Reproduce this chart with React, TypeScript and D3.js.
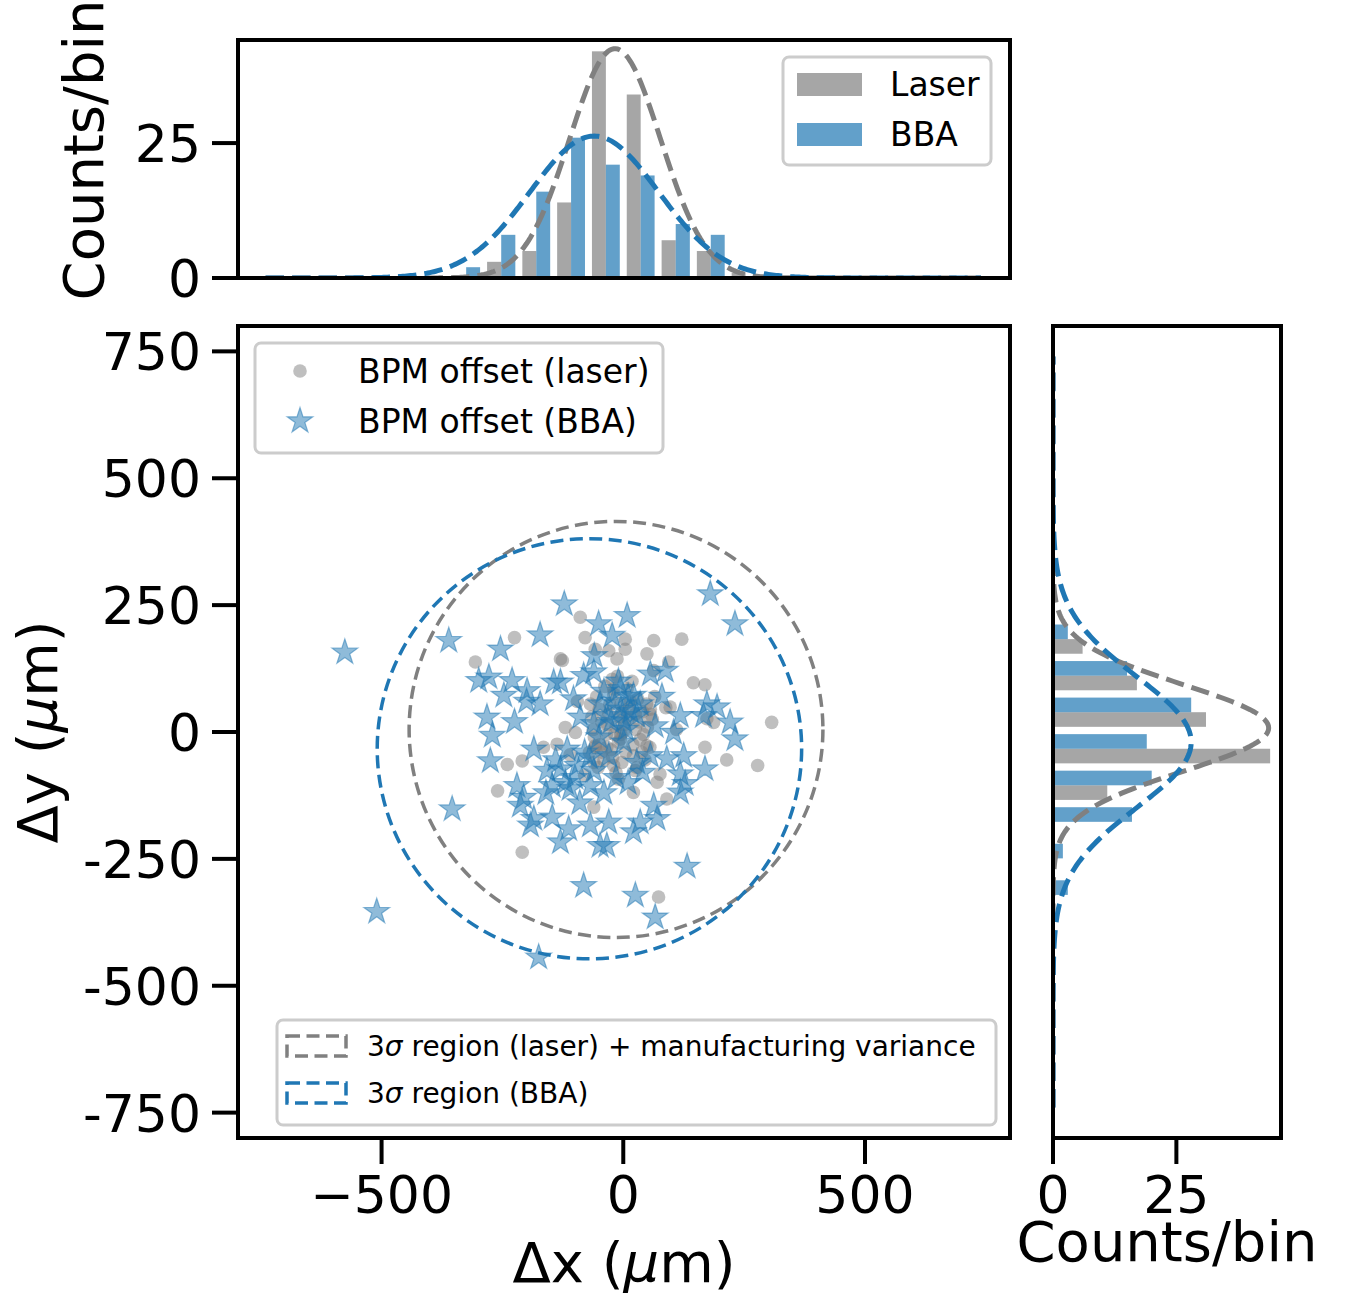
import React from 'react';
import * as d3 from 'd3';

// ---------------- DATA ----------------
// Scatter: BPM offsets measured with laser (µm)
const laserPoints: [number, number][] = [
  [-89, 226], [-225, 186], [-79, 186], [63, 180], [121, 183], [-306, 138], [-130, 144], [-126, 141],
  [-58, 163], [-30, 160], [4, 163], [4, 183], [-13, 144], [49, 154], [94, 138], [63, 121],
  [145, 97], [169, 93], [97, 49], [88, 48], [56, 45], [307, 19], [187, 19], [169, -30],
  [214, -55], [278, -66], [-120, 9], [-99, -1], [-165, -30], [-137, -24], [-240, -64], [-209, -57],
  [-260, -116], [21, -119], [-61, -148], [-209, -237], [-10, -93], [25, -76], [70, -99], [76, -83],
  [90, -132], [-58, -27], [-34, -30], [-6, -14], [-20, -66], [-61, -60], [21, -47], [49, -27],
  [-23, 104], [-20, 85], [56, 35], [173, 26], [73, -325],
  [-45, 20], [-30, 35], [-15, 10], [-60, -10], [-5, 55], [10, 25], [25, 5], [35, -15],
  [-25, -35], [-50, 45], [-10, -20], [5, -40], [40, 40], [-35, -5], [-65, 30], [15, 60],
  [-20, 75], [50, 10], [-40, -55], [0, 0], [-55, 70], [30, 65], [-8, 30], [20, -25],
  [-70, -40], [45, -55], [60, 25], [-28, 55], [-48, -25], [12, 45], [-18, -5], [33, 20],
  [-62, 5], [-3, -60], [55, -30], [-38, 90], [8, 85], [-52, -70], [28, -70], [-12, 110],
  [65, 70], [-33, 15], [3, 15], [-22, -50], [42, -5], [-68, 55], [18, 100], [-45, -40],
  [-2, 40], [48, 55], [-58, -30], [-15, -80], [25, 35], [-5, -5], [38, -40], [-95, 60],
  [-110, -45], [110, 5], [-80, -85],
];

// Scatter: BPM offsets from beam-based alignment (µm)
const bbaPoints: [number, number][] = [
  [-122, 252], [8, 229], [-51, 213], [-23, 190], [-172, 191], [-254, 163], [-361, 180], [180, 272],
  [231, 213], [-299, 101], [-278, 108], [-230, 101], [-199, 81], [-247, 72], [-144, 98], [-130, 98],
  [-82, 111], [-61, 118], [-6, 85], [21, 72], [56, 114], [87, 121], [-172, 55], [-103, 65],
  [-48, 55], [-282, 29], [-271, -7], [-89, 29], [-61, 16], [-34, 32], [1, 22], [28, 32],
  [66, 12], [118, 32], [173, 55], [194, 49], [221, 19], [231, -14], [166, 32], [104, -1],
  [90, -53], [125, -47], [169, -73], [-275, -57], [-185, -34], [-116, -34], [-158, -76], [-130, -73],
  [-96, -66], [-61, -76], [-30, -47], [1, -20], [28, -60], [56, -47], [-220, -106], [-206, -129],
  [-147, -106], [-110, -112], [-68, -106], [-213, -145], [-185, -171], [-192, -184], [-147, -168], [-113, -191],
  [-130, -217], [-68, -184], [-30, -178], [-48, -224], [-34, -224], [21, -197], [35, -178], [70, -171],
  [63, -145], [118, -119], [128, -102], [118, -83], [132, -265], [-354, -152], [-82, -303], [-576, 157],
  [-510, -354], [25, -322], [66, -365], [-175, -444],
  [-20, 60], [-5, 45], [10, 70], [-40, 80], [15, 40], [-25, 20], [35, 55], [-10, 100],
  [5, 5], [-50, -10], [-80, -40], [-140, -55], [-100, -90], [-70, -50], [-120, -100], [-160, -120],
  [-90, -140], [-40, -120], [10, -100], [40, -80], [-15, -90], [-200, 60], [-225, 20], [80, 70],
  [-60, 150],
];

// Top histogram (Δx), counts per bin
const xBinEdges = [-361, -289, -216, -144, -72, 0, 72, 145, 217, 289];
const xCountsLaser = [0, 3, 5, 14, 42, 34, 7, 5, 1];
const xCountsBBA = [2, 8, 16, 26, 21, 19, 10, 8, 0];

// Right histogram (Δy), counts per bin
const yBinEdges = [-357, -285, -213, -141, -69, 3, 75, 147, 219];
const yCountsLaser = [0, 0, 0, 11, 44, 31, 17, 6];
const yCountsBBA = [3, 2, 16, 20, 19, 28, 15, 3];

// Gaussian fits drawn over the histograms
const fitXLaser = { mu: -17, sigma: 94, amp: 42.5 };
const fitXBBA = { mu: -60, sigma: 133, amp: 26.3 };
const fitYLaser = { mu: 8, sigma: 85, amp: 43.7 };
const fitYBBA = { mu: -20, sigma: 129, amp: 28 };

// 3σ regions
const regionLaser = { cx: -15, cy: 5, rx: 428, ry: 410 };
const regionBBA = { cx: -70, cy: -33, rx: 439, ry: 414 };

// Ticks
const xTicks = [-500, 0, 500];
const xTickLabels = ['\u2212500', '0', '500'];
const yTicks = [-750, -500, -250, 0, 250, 500, 750];
const yTickLabels = ['-750', '-500', '-250', '0', '250', '500', '750'];
const countTicks = [0, 25];
const countTickLabels = ['0', '25'];

// ---------------- STYLE ----------------
const GRAY = '#808080';
const BLUE = '#1f77b4';
const FONT = 'DejaVu Sans';

function starPath(R: number) {
  const r = R * 0.382;
  const pts: string[] = [];
  for (let i = 0; i < 10; i++) {
    const a = -Math.PI / 2 + (i * Math.PI) / 5;
    const rad = i % 2 === 0 ? R : r;
    pts.push(`${(rad * Math.cos(a)).toFixed(2)},${(rad * Math.sin(a)).toFixed(2)}`);
  }
  return 'M' + pts.join('L') + 'Z';
}

function gauss(p: { mu: number; sigma: number; amp: number }, v: number) {
  return p.amp * Math.exp(-((v - p.mu) ** 2) / (2 * p.sigma ** 2));
}

export default function App() {
  const W = 1350;
  const H = 1296;
  const main = { l: 238, r: 1010, t: 326, b: 1138 };
  const top = { l: 238, r: 1010, t: 40, b: 278 };
  const side = { l: 1053, r: 1281, t: 326, b: 1138 };

  const x = d3.scaleLinear().domain([-797, 800]).range([main.l, main.r]);
  const y = d3.scaleLinear().domain([-800, 800]).range([main.b, main.t]);
  const cTop = d3.scaleLinear().domain([0, 44.1]).range([top.b, top.t]);
  const cSide = d3.scaleLinear().domain([0, 46.2]).range([side.l, side.r]);

  const samples = d3.range(-740, 741, 4);
  const topLine = d3
    .line<number>()
    .x((v) => x(v))
    .y((v) => cTop(0));
  const lineTop = (p: typeof fitXLaser) =>
    d3
      .line<number>()
      .x((v) => x(v))
      .y((v) => cTop(gauss(p, v)))(samples) as string;
  const lineSide = (p: typeof fitYLaser) =>
    d3
      .line<number>()
      .x((v) => cSide(gauss(p, v)))
      .y((v) => y(v))(samples) as string;
  void topLine;

  const star = starPath(13.5);
  const starLegend = starPath(13.5);

  const tickFont = 52;
  const labelFont = 56;
  const legendFont = 33;
  const spineW = 4;
  const tickLen = 26;

  const topBars: JSX.Element[] = [];
  for (let i = 0; i < xCountsLaser.length; i++) {
    const lo = xBinEdges[i];
    const w = xBinEdges[i + 1] - lo;
    const c1 = xCountsLaser[i];
    const c2 = xCountsBBA[i];
    if (c1 > 0)
      topBars.push(
        <rect key={'tl' + i} x={x(lo + 0.1 * w)} width={x(lo + 0.5 * w) - x(lo + 0.1 * w)} y={cTop(c1)} height={cTop(0) - cTop(c1)} fill={GRAY} fillOpacity={0.7} />
      );
    if (c2 > 0)
      topBars.push(
        <rect key={'tb' + i} x={x(lo + 0.5 * w)} width={x(lo + 0.9 * w) - x(lo + 0.5 * w)} y={cTop(c2)} height={cTop(0) - cTop(c2)} fill={BLUE} fillOpacity={0.7} />
      );
  }

  const sideBars: JSX.Element[] = [];
  for (let i = 0; i < yCountsLaser.length; i++) {
    const lo = yBinEdges[i];
    const w = yBinEdges[i + 1] - lo;
    const c1 = yCountsLaser[i];
    const c2 = yCountsBBA[i];
    if (c1 > 0)
      sideBars.push(
        <rect key={'sl' + i} x={cSide(0)} width={cSide(c1) - cSide(0)} y={y(lo + 0.5 * w)} height={y(lo + 0.1 * w) - y(lo + 0.5 * w)} fill={GRAY} fillOpacity={0.7} />
      );
    if (c2 > 0)
      sideBars.push(
        <rect key={'sb' + i} x={cSide(0)} width={cSide(c2) - cSide(0)} y={y(lo + 0.9 * w)} height={y(lo + 0.5 * w) - y(lo + 0.9 * w)} fill={BLUE} fillOpacity={0.7} />
      );
  }

  const frame = (a: { l: number; r: number; t: number; b: number }) => (
    <rect x={a.l} y={a.t} width={a.r - a.l} height={a.b - a.t} fill="none" stroke="#000" strokeWidth={spineW} />
  );

  return (
    <svg
      width={W}
      height={H}
      viewBox={`0 0 ${W} ${H}`}
      style={{ position: 'absolute', left: 0, top: 0, background: '#fff' }}
      fontFamily={FONT}
    >
      <defs>
        <clipPath id="clipMain">
          <rect x={main.l} y={main.t} width={main.r - main.l} height={main.b - main.t} />
        </clipPath>
        <clipPath id="clipTop">
          <rect x={top.l} y={top.t} width={top.r - top.l} height={top.b - top.t} />
        </clipPath>
        <clipPath id="clipSide">
          <rect x={side.l} y={side.t} width={side.r - side.l} height={side.b - side.t} />
        </clipPath>
      </defs>
      <rect x={0} y={0} width={W} height={H} fill="#fff" />

      {/* ---------- Top histogram ---------- */}
      <g clipPath="url(#clipTop)">
        {topBars}
        <path d={lineTop(fitXLaser)} fill="none" stroke={GRAY} strokeWidth={5} strokeDasharray="18.5 8" />
        <path d={lineTop(fitXBBA)} fill="none" stroke={BLUE} strokeWidth={5} strokeDasharray="18.5 8" />
      </g>
      {frame(top)}
      {countTicks.map((t, i) => (
        <g key={'ct' + i}>
          <line x1={top.l - tickLen} x2={top.l} y1={cTop(t)} y2={cTop(t)} stroke="#000" strokeWidth={spineW} />
          <text x={top.l - tickLen - 11} y={cTop(t) + 19} fontSize={tickFont} textAnchor="end">
            {countTickLabels[i]}
          </text>
        </g>
      ))}
      <text transform={`translate(103, 150) rotate(-90)`} fontSize={labelFont} textAnchor="middle">
        Counts/bin
      </text>
      {/* top legend */}
      <g>
        <rect x={783} y={57} width={208} height={108} rx={6} fill="#fff" fillOpacity={0.8} stroke="#cccccc" strokeWidth={3} />
        <rect x={797} y={73} width={65} height={23} fill={GRAY} fillOpacity={0.7} />
        <rect x={797} y={123} width={65} height={23} fill={BLUE} fillOpacity={0.7} />
        <text x={890} y={96} fontSize={legendFont}>Laser</text>
        <text x={890} y={146} fontSize={legendFont}>BBA</text>
      </g>

      {/* ---------- Main scatter ---------- */}
      <g clipPath="url(#clipMain)">
        {laserPoints.map((p, i) => (
          <circle key={'lp' + i} cx={x(p[0])} cy={y(p[1])} r={6.8} fill={GRAY} fillOpacity={0.5} />
        ))}
        {bbaPoints.map((p, i) => (
          <path
            key={'bp' + i}
            d={star}
            transform={`translate(${x(p[0])},${y(p[1])})`}
            fill={BLUE}
            fillOpacity={0.5}
            stroke={BLUE}
            strokeOpacity={0.5}
            strokeWidth={1.2}
          />
        ))}
        <ellipse
          cx={x(regionLaser.cx)}
          cy={y(regionLaser.cy)}
          rx={x(regionLaser.cx + regionLaser.rx) - x(regionLaser.cx)}
          ry={y(regionLaser.cy) - y(regionLaser.cy + regionLaser.ry)}
          fill="none"
          stroke={GRAY}
          strokeWidth={3.5}
          strokeDasharray="13 6.5"
        />
        <ellipse
          cx={x(regionBBA.cx)}
          cy={y(regionBBA.cy)}
          rx={x(regionBBA.cx + regionBBA.rx) - x(regionBBA.cx)}
          ry={y(regionBBA.cy) - y(regionBBA.cy + regionBBA.ry)}
          fill="none"
          stroke={BLUE}
          strokeWidth={3.5}
          strokeDasharray="13 6.5"
        />
      </g>
      {frame(main)}
      {xTicks.map((t, i) => (
        <g key={'xt' + i}>
          <line x1={x(t)} x2={x(t)} y1={main.b} y2={main.b + tickLen} stroke="#000" strokeWidth={spineW} />
          <text x={x(t)} y={1213} fontSize={tickFont} textAnchor="middle">
            {xTickLabels[i]}
          </text>
        </g>
      ))}
      {yTicks.map((t, i) => (
        <g key={'yt' + i}>
          <line x1={main.l - tickLen} x2={main.l} y1={y(t)} y2={y(t)} stroke="#000" strokeWidth={spineW} />
          <text x={main.l - tickLen - 11} y={y(t) + 19} fontSize={tickFont} textAnchor="end">
            {yTickLabels[i]}
          </text>
        </g>
      ))}
      <text x={624} y={1282} fontSize={labelFont} textAnchor="middle">
        Δx (<tspan fontStyle="italic">µ</tspan>m)
      </text>
      <text transform={`translate(57, 732) rotate(-90)`} fontSize={labelFont} textAnchor="middle">
        Δy (<tspan fontStyle="italic">µ</tspan>m)
      </text>

      {/* scatter legend */}
      <g>
        <rect x={255} y={343} width={408} height={110} rx={6} fill="#fff" fillOpacity={0.8} stroke="#cccccc" strokeWidth={3} />
        <circle cx={300} cy={371} r={6.8} fill={GRAY} fillOpacity={0.5} />
        <path d={starLegend} transform="translate(300,421)" fill={BLUE} fillOpacity={0.5} stroke={BLUE} strokeOpacity={0.5} strokeWidth={1.2} />
        <text x={358} y={383} fontSize={legendFont}>BPM offset (laser)</text>
        <text x={358} y={433} fontSize={legendFont}>BPM offset (BBA)</text>
      </g>

      {/* region legend */}
      <g>
        <rect x={277} y={1020} width={719} height={105} rx={6} fill="#fff" fillOpacity={0.8} stroke="#cccccc" strokeWidth={3} />
        <rect x={287} y={1036} width={59} height={20} fill="none" stroke={GRAY} strokeWidth={3.5} strokeDasharray="13 6.5" />
        <rect x={287} y={1083} width={59} height={20} fill="none" stroke={BLUE} strokeWidth={3.5} strokeDasharray="13 6.5" />
        <text x={367} y={1056} fontSize={28}>
          3<tspan fontStyle="italic">σ</tspan> region (laser) + manufacturing variance
        </text>
        <text x={367} y={1103} fontSize={28}>
          3<tspan fontStyle="italic">σ</tspan> region (BBA)
        </text>
      </g>

      {/* ---------- Side histogram ---------- */}
      <g clipPath="url(#clipSide)">
        {sideBars}
        <path d={lineSide(fitYLaser)} fill="none" stroke={GRAY} strokeWidth={5} strokeDasharray="18.5 8" />
        <path d={lineSide(fitYBBA)} fill="none" stroke={BLUE} strokeWidth={5} strokeDasharray="18.5 8" />
      </g>
      {frame(side)}
      {countTicks.map((t, i) => (
        <g key={'st' + i}>
          <line x1={cSide(t)} x2={cSide(t)} y1={side.b} y2={side.b + tickLen} stroke="#000" strokeWidth={spineW} />
          <text x={cSide(t)} y={1213} fontSize={tickFont} textAnchor="middle">
            {countTickLabels[i]}
          </text>
        </g>
      ))}
      <text x={(side.l + side.r) / 2} y={1261} fontSize={labelFont} textAnchor="middle">
        Counts/bin
      </text>
    </svg>
  );
}
